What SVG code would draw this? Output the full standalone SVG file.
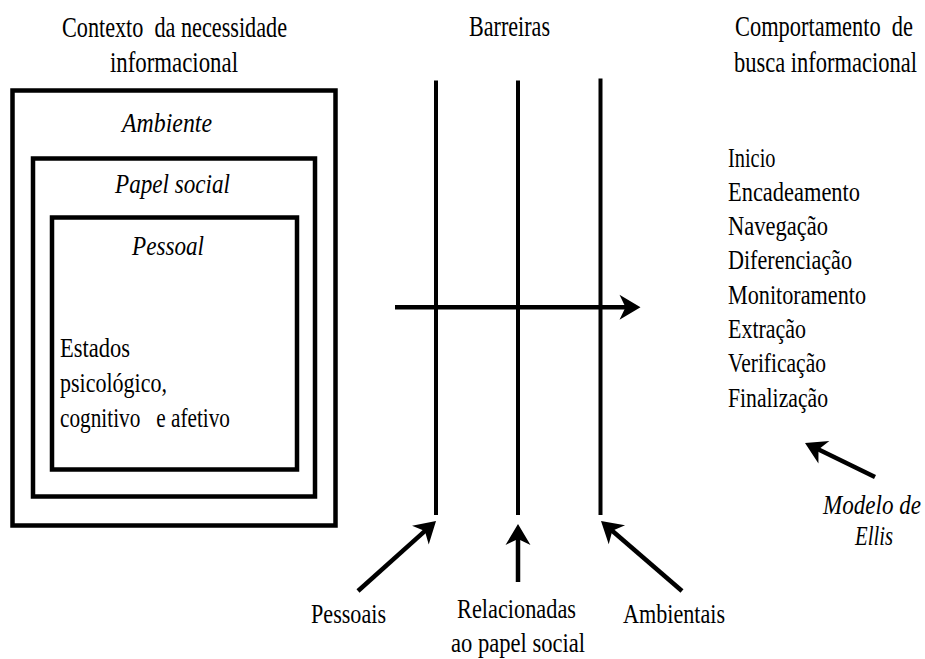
<svg xmlns="http://www.w3.org/2000/svg" width="925" height="659" viewBox="0 0 925 659">
  <style>
    text { font-family: "Liberation Serif", "Times New Roman", serif; fill: #000; }
    .hd { font-size: 30px; }
    .tx { font-size: 28px; }
    .lb { font-size: 27px; }
    .it { font-size: 28px; font-style: italic; }
    .end { text-anchor: end; }
    .box { fill: none; stroke: #000; stroke-width: 4.5; }
    .bar { stroke: #000; stroke-width: 4; fill: none; }
    .arr { stroke: #000; stroke-width: 4.5; fill: none; marker-end: url(#head); }
  </style>
  <defs>
    <!-- filled arrowhead with a notched back -->
    <marker id="head" markerUnits="userSpaceOnUse" viewBox="-9 -15 25 30" markerWidth="25" markerHeight="30" refX="0" refY="0" orient="auto">
      <path d="M14,0 L-7,-12.5 L-1,0 L-7,12.5 Z" fill="#000"/>
    </marker>
  </defs>
  <rect width="925" height="659" fill="#fff"/>

  <!-- column headings -->
  <g id="heading-context">
    <text class="hd" x="62" y="37" textLength="225" lengthAdjust="spacingAndGlyphs" xml:space="preserve">Contexto  da necessidade</text>
    <text class="hd" x="110" y="72" textLength="128" lengthAdjust="spacingAndGlyphs">informacional</text>
  </g>
  <g id="heading-barriers">
    <text class="hd" x="469" y="36" textLength="81" lengthAdjust="spacingAndGlyphs">Barreiras</text>
  </g>
  <g id="heading-behaviour">
    <text class="hd end" x="913" y="36" textLength="178" lengthAdjust="spacingAndGlyphs" xml:space="preserve">Comportamento  de</text>
    <text class="hd end" x="917" y="72" textLength="183" lengthAdjust="spacingAndGlyphs">busca informacional</text>
  </g>

  <!-- nested context boxes -->
  <g id="ambiente">
    <rect class="box" x="12.5" y="90.5" width="323" height="435"/>
    <text class="it" x="122" y="132" textLength="90" lengthAdjust="spacingAndGlyphs">Ambiente</text>
  </g>
  <g id="papel-social">
    <rect class="box" x="33" y="158.5" width="282" height="338"/>
    <text class="it" x="115" y="192.5" textLength="115" lengthAdjust="spacingAndGlyphs">Papel social</text>
  </g>
  <g id="pessoal">
    <rect class="box" x="52" y="217.5" width="245" height="252"/>
    <text class="it" x="132" y="255" textLength="72" lengthAdjust="spacingAndGlyphs">Pessoal</text>
    <text class="tx" x="60" y="357" textLength="70" lengthAdjust="spacingAndGlyphs">Estados</text>
    <text class="tx" x="60" y="392" textLength="107" lengthAdjust="spacingAndGlyphs">psicológico,</text>
    <text class="tx" x="60" y="427" textLength="170" lengthAdjust="spacingAndGlyphs" xml:space="preserve">cognitivo   e afetivo</text>
  </g>

  <!-- Ellis model stages -->
  <g id="ellis-stages">
    <text class="tx" x="728" y="166.5" textLength="47.5" lengthAdjust="spacingAndGlyphs">Inicio</text>
    <text class="tx" x="728" y="200.8" textLength="132" lengthAdjust="spacingAndGlyphs">Encadeamento</text>
    <text class="tx" x="728" y="235.1" textLength="100" lengthAdjust="spacingAndGlyphs">Navegação</text>
    <text class="tx" x="728" y="269.4" textLength="124" lengthAdjust="spacingAndGlyphs">Diferenciação</text>
    <text class="tx" x="728" y="303.7" textLength="138" lengthAdjust="spacingAndGlyphs">Monitoramento</text>
    <text class="tx" x="728" y="338" textLength="78" lengthAdjust="spacingAndGlyphs">Extração</text>
    <text class="tx" x="728" y="372.3" textLength="98" lengthAdjust="spacingAndGlyphs">Verificação</text>
    <text class="tx" x="728" y="406.6" textLength="100" lengthAdjust="spacingAndGlyphs">Finalização</text>
  </g>
  <g id="modelo-ellis">
    <text class="it end" x="921" y="514" textLength="98" lengthAdjust="spacingAndGlyphs">Modelo de</text>
    <text class="it end" x="893" y="545" textLength="38" lengthAdjust="spacingAndGlyphs">Ellis</text>
  </g>

  <!-- barrier labels -->
  <g id="barreira-pessoais">
    <text class="lb" x="311" y="623" textLength="75" lengthAdjust="spacingAndGlyphs">Pessoais</text>
  </g>
  <g id="barreira-papel-social">
    <text class="lb" x="457" y="618" textLength="119" lengthAdjust="spacingAndGlyphs">Relacionadas</text>
    <text class="lb" x="451" y="651.5" textLength="134" lengthAdjust="spacingAndGlyphs">ao papel social</text>
  </g>
  <g id="barreira-ambientais">
    <text class="lb" x="623" y="623" textLength="102" lengthAdjust="spacingAndGlyphs">Ambientais</text>
  </g>

  <!-- barrier lines and arrows -->
  <g id="connectors">
    <line class="bar" x1="436" y1="80.5" x2="436" y2="515"/>
    <line class="bar" x1="518" y1="80.5" x2="518" y2="515"/>
    <line class="bar" x1="600.5" y1="78.5" x2="600.5" y2="515"/>
    <path class="arr" d="M395,307.3 L626.5,307.3"/>
    <path class="arr" d="M358,591 L425.6,530.4"/>
    <path class="arr" d="M518,582 L518,538"/>
    <path class="arr" d="M682,591 L611.6,530.2"/>
    <path class="arr" d="M875,477 L817.6,449.1"/>
  </g>
</svg>
